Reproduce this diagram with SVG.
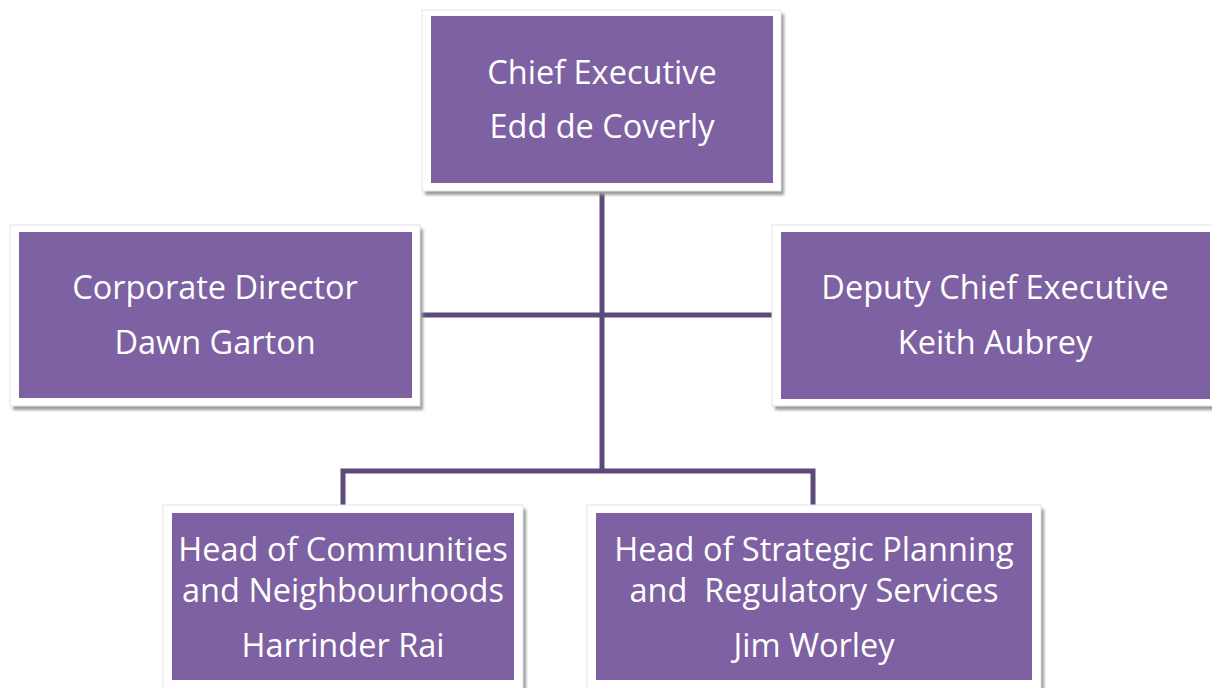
<svg xmlns="http://www.w3.org/2000/svg" width="1212" height="688" viewBox="0 0 1212 688">
<defs>
<filter id="sh" x="-5%" y="-5%" width="115%" height="120%">
<feGaussianBlur stdDeviation="1.5"/>
</filter>
</defs>
<style>
.frame{fill:#ffffff;stroke:#e4e4e4;stroke-width:1}
.shadow{fill:#9a9a9a;filter:url(#sh)}
.box{fill:#7e61a2}
.t{font-family:"Open Sans","Liberation Sans",sans-serif;font-size:32.5px;fill:#ffffff;text-anchor:middle;white-space:pre}
.conn{fill:none;stroke:#5e4a7a;stroke-width:5}
</style>
<rect width="1212" height="688" fill="#ffffff"/>
<g id="connectors">
<path class="conn" d="M602 183 V471"/>
<path class="conn" d="M420 315 H772"/>
<path class="conn" d="M343 505 V471 H813 V505"/>
</g>
<g id="n-chief">
<rect class="shadow" x="425" y="14" width="359" height="181"/>
<rect class="frame" x="422" y="10" width="359" height="181"/>
<rect class="box" x="431" y="16" width="342" height="167"/>
<text class="t" x="602" y="84">Chief Executive</text>
<text class="t" x="602" y="138">Edd de Coverly</text>
</g>
<g id="n-corporate">
<rect class="shadow" x="13" y="229" width="410" height="181"/>
<rect class="frame" x="10" y="225" width="410" height="181"/>
<rect class="box" x="19" y="232" width="393" height="166"/>
<text class="t" x="215" y="299">Corporate Director</text>
<text class="t" x="215" y="354">Dawn Garton</text>
</g>
<g id="n-deputy">
<rect class="shadow" x="775" y="229" width="440" height="181"/>
<rect class="frame" x="772" y="225" width="445" height="181"/>
<rect class="box" x="781" y="232" width="429" height="167"/>
<text class="t" x="995" y="299">Deputy Chief Executive</text>
<text class="t" x="995" y="354">Keith Aubrey</text>
</g>
<g id="n-communities">
<rect class="shadow" x="166" y="509" width="360" height="190"/>
<rect class="frame" x="163" y="505" width="360" height="190"/>
<rect class="box" x="172" y="513" width="342" height="167"/>
<text class="t" x="343" y="561">Head of Communities</text>
<text class="t" x="343" y="602">and Neighbourhoods</text>
<text class="t" x="343" y="657">Harrinder Rai</text>
</g>
<g id="n-planning">
<rect class="shadow" x="590" y="509" width="454" height="190"/>
<rect class="frame" x="587" y="505" width="454" height="190"/>
<rect class="box" x="596" y="513" width="436" height="167"/>
<text class="t" x="814" y="561">Head of Strategic Planning</text>
<text class="t" x="814" y="602" xml:space="preserve">and  Regulatory Services</text>
<text class="t" x="814" y="657">Jim Worley</text>
</g>
</svg>
